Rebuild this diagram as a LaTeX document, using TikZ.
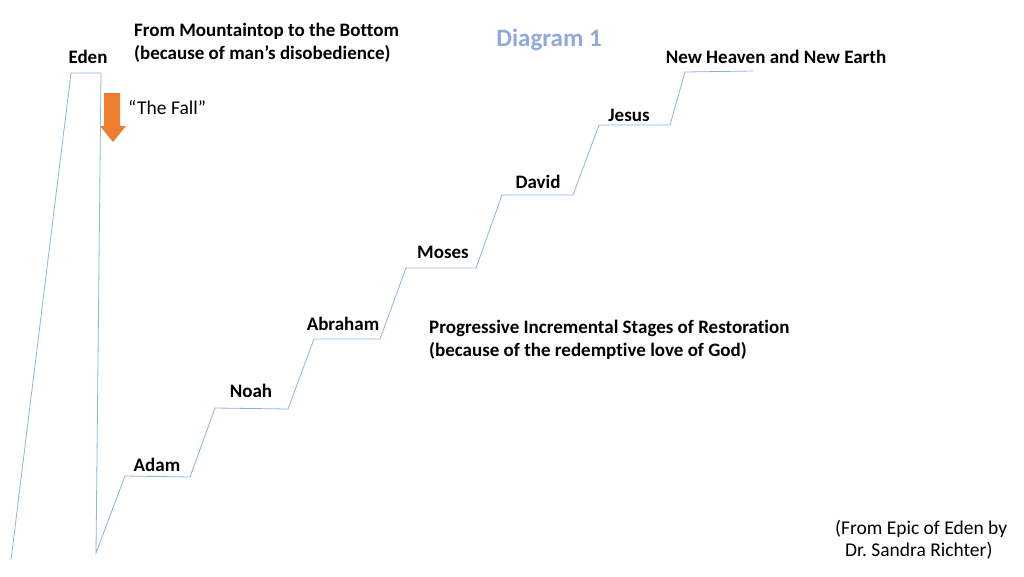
\documentclass[tikz,border=0pt]{standalone}
\usepackage{fontspec}
\setmainfont{Carlito}[Ligatures=NoCommon]
\definecolor{stepblue}{RGB}{140,180,220}
\definecolor{titleblue}{RGB}{143,170,218}
\definecolor{fallorange}{RGB}{237,125,49}
\begin{document}
\frenchspacing
\begin{tikzpicture}[x=1pt,y=-1pt,
  stepline/.style={draw=stepblue,line width=0.8pt,line join=miter},
  lbl/.style={font=\fontsize{19}{23}\selectfont\bfseries,inner sep=0pt},
  note/.style={font=\fontsize{19}{23}\selectfont\bfseries,inner sep=0pt,align=left},
  plain/.style={font=\fontsize{19.5}{22}\selectfont,inner sep=0pt,align=left}]
\useasboundingbox (0,0) rectangle (1024,576);
% corners
\coordinate (base) at (11,560);
\coordinate (edenL) at (71,73);
\coordinate (edenR) at (101,73);
\coordinate (bottom) at (96,553);
\coordinate (adamL) at (125,476);
\coordinate (adamR) at (190,477);
\coordinate (noahL) at (215,408);
\coordinate (noahR) at (288,409);
\coordinate (abrL) at (314,339);
\coordinate (abrR) at (380,339);
\coordinate (mosL) at (406,268);
\coordinate (mosR) at (476,268);
\coordinate (davL) at (502,195);
\coordinate (davR) at (573,195);
\coordinate (jesL) at (599,125);
\coordinate (jesR) at (670,125);
\coordinate (nhL) at (685,72);
\coordinate (nhR) at (753,71);
\draw[stepline] (base) -- (edenL) -- (edenR) -- (bottom) -- (adamL) -- (adamR)
  -- (noahL) -- (noahR) -- (abrL) -- (abrR) -- (mosL) -- (mosR)
  -- (davL) -- (davR) -- (jesL) -- (jesR) -- (nhL) -- (nhR);
% fall arrow
\fill[fallorange] (104,93) -- (120,93) -- (120,126) -- (126,126) -- (113,142)
  -- (100,126) -- (104,126) -- cycle;
% labels
\node[lbl] (eden) at (88,57) {Eden};
\node[lbl] (adam) at (157,465) {Adam};
\node[lbl] (noah) at (251,391) {Noah};
\node[lbl] (abraham) at (343,324) {Abraham};
\node[lbl] (moses) at (443,252) {Moses};
\node[lbl] (david) at (538,182) {David};
\node[lbl] (jesus) at (629,115) {Jesus};
\node[lbl] (nh) at (776,57) {New Heaven and New Earth};
\node[font=\fontsize{25}{30}\selectfont\bfseries,text=titleblue,inner sep=0pt] (title) at (549,40) {Diagram 1};
\node[note,anchor=west] (fromtop) at (134,43) {From Mountaintop to the Bottom\\(because of man’s disobedience)};
\node[plain,anchor=west] (fall) at (128,108) {“The Fall”};
\node[note,anchor=west] (progress) at (429,339.5) {Progressive Incremental Stages of Restoration\\(because of the redemptive love of God)};
\node[plain,anchor=west] (src1) at (835,529) {(From Epic of Eden by};
\node[plain,anchor=west] (src2) at (845,551) {Dr. Sandra Richter)};
\end{tikzpicture}
\end{document}
